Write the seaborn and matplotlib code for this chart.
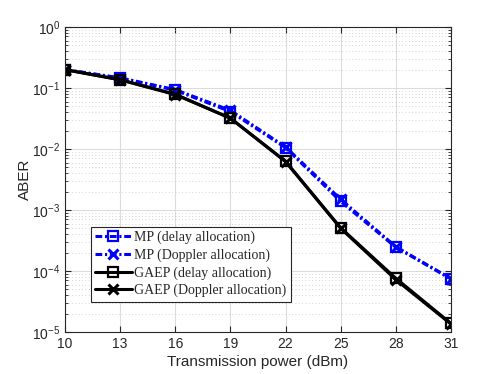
import numpy as np
import pandas as pd
import matplotlib
matplotlib.use("Agg")
import matplotlib.pyplot as plt
import seaborn as sns
from matplotlib.ticker import LogLocator, NullFormatter

power = [10, 13, 16, 19, 22, 25, 28, 31]
mp_delay = [0.20, 0.145, 0.092, 0.041, 0.0105, 0.00138, 0.000245, 7.4e-5]
mp_doppler = [0.20, 0.147, 0.094, 0.043, 0.0108, 0.00150, 0.000250, 7.5e-5]
gaep_delay = [0.20, 0.137, 0.079, 0.032, 0.0063, 0.00051, 7.6e-5, 1.38e-5]
gaep_doppler = [0.20, 0.136, 0.078, 0.032, 0.0062, 0.00050, 7.2e-5, 1.35e-5]
labels = ["MP (delay allocation)", "MP (Doppler allocation)",
          "GAEP (delay allocation)", "GAEP (Doppler allocation)"]
xticks = [10, 13, 16, 19, 22, 25, 28, 31]

sns.set_style("ticks")
plt.rcParams['font.family'] = ['Liberation Sans', 'DejaVu Sans']
plt.rcParams['mathtext.fontset'] = 'custom'
plt.rcParams['mathtext.rm'] = 'Liberation Sans'

fig = plt.figure(figsize=(4.98, 3.74), dpi=100)
ax = fig.add_axes([0.1305, 0.1123, 0.775, 0.8155])

dashdot = (0, (2.2, 0.9, 0.7, 0.9))
series = [mp_delay, mp_doppler, gaep_delay, gaep_doppler]
styles = [
    dict(color="#0000ff", linestyle=dashdot, marker="s", markersize=6.5, markerfacecolor="none", markeredgewidth=1.6),
    dict(color="#0000ff", linestyle=dashdot, marker="x", markersize=6.5, markeredgewidth=2.2),
    dict(color="#000000", linestyle="-", marker="s", markersize=6.5, markerfacecolor="none", markeredgewidth=1.6),
    dict(color="#000000", linestyle="-", marker="x", markersize=6.5, markeredgewidth=2.2),
]
handles = []
for vals, lab, st in zip(series, labels, styles):
    df = pd.DataFrame({"x": power, "y": vals})
    n0 = len(ax.lines)
    sns.lineplot(data=df, x="x", y="y", ax=ax, color=st["color"], linewidth=2.2)
    ln = ax.lines[n0]
    ln.set_linestyle(st["linestyle"])
    ln.set_marker(st["marker"])
    ln.set_markersize(st["markersize"])
    ln.set_markeredgewidth(st["markeredgewidth"])
    ln.set_markeredgecolor(st["color"])
    ln.set_markerfacecolor(st.get("markerfacecolor", st["color"]))
    ln.set_label(lab)
    handles.append(ln)

ax.set_yscale("log")
ax.set_ylim(1e-5, 1)
ax.set_xlim(10, 31)
ax.set_xticks(xticks)
ax.set_xticklabels([str(t) for t in xticks])
ax.set_yticks([1e-5, 1e-4, 1e-3, 1e-2, 1e-1, 1])
ax.set_yticklabels([r"$10^{%d}$" % e for e in [-5, -4, -3, -2, -1, 0]])
ax.yaxis.set_minor_locator(LogLocator(base=10, subs=np.arange(2, 10), numticks=20))
ax.yaxis.set_minor_formatter(NullFormatter())

ax.grid(True, which="major", color="#dcdcdc", linewidth=0.8, linestyle="-")
ax.grid(True, which="minor", axis="y", color="#c8c8c8", linewidth=0.6, linestyle=(0, (1, 3)))
ax.set_axisbelow(True)

ax.tick_params(which="both", direction="in", top=True, right=True, labelsize=10, colors="#262626")
ax.tick_params(which="major", length=4)
ax.tick_params(which="minor", length=2)
for sp in ax.spines.values():
    sp.set_color("#262626")
    sp.set_linewidth(0.8)
    sp.set_visible(True)

ax.set_xlabel("Transmission power (dBm)", fontsize=11, color="#262626", labelpad=3)
ax.set_ylabel("ABER", fontsize=11, color="#262626", labelpad=0)

leg = ax.legend(handles=handles, labels=labels, loc="lower left", bbox_to_anchor=(0.068, 0.1),
                frameon=True, fancybox=False,
                edgecolor="#262626", framealpha=1, borderpad=0.3, labelspacing=0.3,
                handlelength=2.6, handletextpad=0.2, borderaxespad=0,
                prop={"family": "Liberation Serif", "size": 10})
leg.get_frame().set_linewidth(0.8)

fig.savefig("out.png", dpi=100)
